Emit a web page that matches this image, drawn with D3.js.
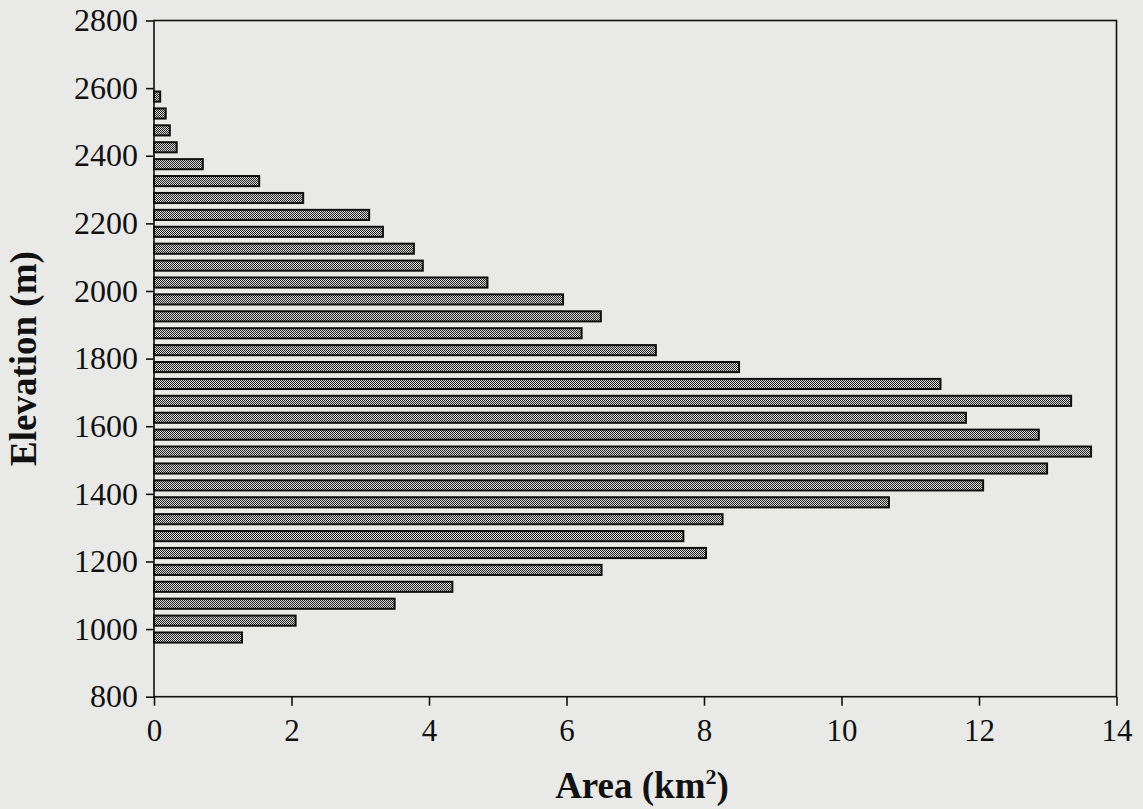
<!DOCTYPE html>
<html>
<head>
<meta charset="utf-8">
<script src="https://cdn.jsdelivr.net/npm/d3@7"></script>
<style>
  html, body { margin: 0; padding: 0; background: #e9e9e7; }
  svg { display: block; }
  text { font-family: "Liberation Serif", "Times New Roman", serif; fill: #111; }
</style>
</head>
<body>
<div id="chart"></div>
<script>
// bin centres (m) of the 50 m elevation bands
const elevations = [975, 1025, 1075, 1125, 1175, 1225, 1275, 1325, 1375, 1425,
                    1475, 1525, 1575, 1625, 1675, 1725, 1775, 1825, 1875, 1925,
                    1975, 2025, 2075, 2125, 2175, 2225, 2275, 2325, 2375, 2425,
                    2475, 2525, 2575];
// area in each band (km2)
const areas = [1.28, 2.06, 3.50, 4.34, 6.51, 8.03, 7.70, 8.27, 10.69, 12.06,
               12.99, 13.63, 12.87, 11.81, 13.34, 11.44, 8.51, 7.30, 6.22, 6.50,
               5.95, 4.85, 3.91, 3.78, 3.33, 3.13, 2.17, 1.53, 0.71, 0.33,
               0.23, 0.17, 0.09];
const yTicks = [800, 1000, 1200, 1400, 1600, 1800, 2000, 2200, 2400, 2600, 2800];
const xTicks = [0, 2, 4, 6, 8, 10, 12, 14];

const W = 1143, H = 809;
const m = { left: 154, right: 1116.5, top: 20.5, bottom: 696.7 };

const svg = d3.select("#chart").append("svg")
    .attr("width", W)
    .attr("height", H);

svg.append("rect").attr("width", W).attr("height", H).attr("fill", "#e9e9e7");

// dotted fill like the printed screen
const pat = svg.append("defs").append("pattern")
    .attr("id", "dots")
    .attr("width", 2).attr("height", 2)
    .attr("patternUnits", "userSpaceOnUse");
pat.append("rect").attr("width", 2).attr("height", 2).attr("fill", "#d6d6d6");
pat.append("rect").attr("width", 1).attr("height", 1).attr("fill", "#262626");
pat.append("rect").attr("x", 1).attr("y", 1).attr("width", 1).attr("height", 1).attr("fill", "#262626");

const x = d3.scaleLinear().domain([0, 14]).range([m.left, m.right]);
const y = d3.scaleLinear().domain([800, 2800]).range([m.bottom, m.top]);

const data = elevations.map((e, i) => ({ elev: e, area: areas[i] }));

svg.selectAll("rect.bar")
    .data(data)
    .enter().append("rect")
    .attr("class", "bar")
    .attr("x", x(0))
    .attr("y", d => y(d.elev + 15))
    .attr("width", d => x(d.area) - x(0))
    .attr("height", d => y(d.elev - 15) - y(d.elev + 15))
    .attr("fill", "url(#dots)")
    .attr("stroke", "#111")
    .attr("stroke-width", 2);

// frame
svg.append("rect")
    .attr("x", m.left).attr("y", m.top)
    .attr("width", m.right - m.left).attr("height", m.bottom - m.top)
    .attr("fill", "none")
    .attr("stroke", "#111")
    .attr("stroke-width", 1.6);

const yAxis = svg.append("g")
    .attr("transform", `translate(${m.left},0)`)
    .call(d3.axisLeft(y).tickValues(yTicks).tickFormat(d3.format("d")).tickSize(8).tickPadding(8));
yAxis.select(".domain").remove();
yAxis.selectAll("line").attr("stroke", "#111").attr("stroke-width", 1.6);
yAxis.selectAll("text").attr("font-size", 32).attr("fill", "#111");

const xAxis = svg.append("g")
    .attr("transform", `translate(0,${m.bottom})`)
    .call(d3.axisBottom(x).tickValues(xTicks).tickFormat(d3.format("d")).tickSize(9).tickPadding(13));
xAxis.select(".domain").remove();
xAxis.selectAll("line").attr("stroke", "#111").attr("stroke-width", 1.6);
xAxis.selectAll("text").attr("font-size", 31).attr("fill", "#111");

// axis titles
const xt = svg.append("text")
    .attr("x", 642).attr("y", 798)
    .attr("text-anchor", "middle")
    .attr("font-size", 37)
    .attr("font-weight", "bold");
xt.append("tspan").text("Area (km");
xt.append("tspan").attr("dy", -14).attr("font-size", 22).text("2");
xt.append("tspan").attr("dy", 14).text(")");

svg.append("text")
    .attr("transform", `translate(36,${(m.top + m.bottom) / 2}) rotate(-90)`)
    .attr("text-anchor", "middle")
    .attr("font-size", 37)
    .attr("font-weight", "bold")
    .text("Elevation (m)");
</script>
</body>
</html>
